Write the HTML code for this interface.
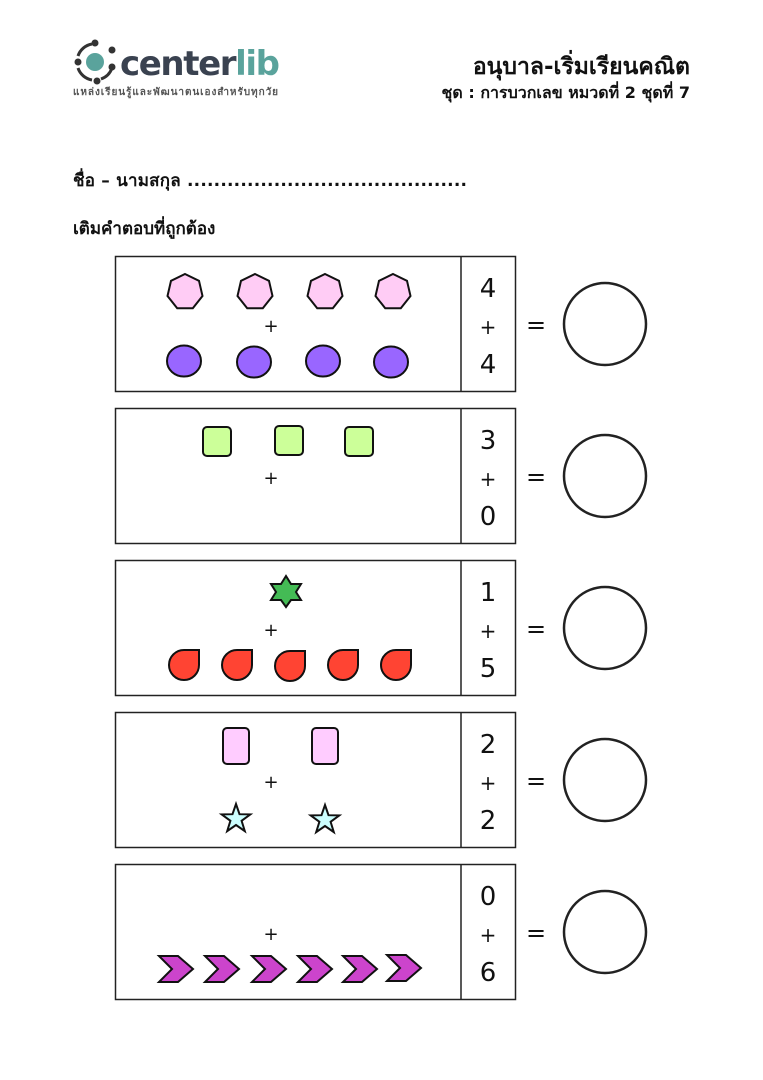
<!DOCTYPE html>
<html><head><meta charset="utf-8"><style>
body{margin:0;background:#fff;width:763px;height:1080px;overflow:hidden}
svg{display:block}
text{font-family:"DejaVu Sans","Liberation Sans","Noto Sans CJK SC",sans-serif}
</style></head><body>
<svg width="763" height="1080" xmlns="http://www.w3.org/2000/svg">
<defs>
<polygon id="hep" points="0,-18 14,-11.2 17.5,4 7.8,16.2 -7.8,16.2 -17.5,4 -14,-11.2" fill="#ffccf5" stroke="#111" stroke-width="2"/>
<ellipse id="ell" rx="17" ry="15.5" fill="#9966ff" stroke="#111" stroke-width="2"/>
<rect id="sq" x="-14" y="-14" width="28" height="29" rx="4" fill="#ccff99" stroke="#111" stroke-width="2"/>
<path id="drop" d="M15,-15 L15,0 A15,15 0 1 1 0,-15 Z" fill="#ff4433" stroke="#111" stroke-width="2"/>
<rect id="rr" x="-13" y="-18" width="26" height="36" rx="4" fill="#ffccff" stroke="#111" stroke-width="2"/>
<polygon id="st5" points="0,-15 3.5,-4.8 14.3,-4.6 5.6,1.8 8.8,12.1 0,6 -8.8,12.1 -5.6,1.8 -14.3,-4.6 -3.5,-4.8" fill="#ccffff" stroke="#111" stroke-width="2"/>
<polygon id="chev" points="-17,-13 2,-13 17,0 2,13 -17,13 -4,0" fill="#cc44cc" stroke="#111" stroke-width="2"/>
</defs>
<g transform="translate(95,62)">
<circle r="9" fill="#5aa39c"/>
<path d="M-17,-6 A18,18 0 0 1 -3,-18" stroke="#333" stroke-width="3" fill="none"/>
<path d="M-17,6 A18,18 0 0 0 -3,18" stroke="#333" stroke-width="3" fill="none"/>
<path d="M6,17 A18,18 0 0 0 17,6" stroke="#333" stroke-width="3" fill="none"/>
<circle cx="-17" cy="0" r="3.5" fill="#333"/><circle cx="0" cy="-19" r="3.5" fill="#333"/><circle cx="17" cy="-12" r="3.5" fill="#333"/><circle cx="17" cy="5" r="3.5" fill="#333"/><circle cx="2" cy="19" r="3.5" fill="#333"/>
</g>
<text x="120" y="75" font-size="34" font-weight="bold" fill="#3a4250" font-family="Liberation Sans" textLength="160">center<tspan fill="#5aa39c">lib</tspan></text>
<text x="73" y="95" font-size="10" font-weight="bold" fill="#555" textLength="205">แหล่งเรียนรู้และพัฒนาตนเองสำหรับทุกวัย</text>
<text x="690" y="74" font-size="23" font-weight="bold" text-anchor="end" fill="#111">อนุบาล-เริ่มเรียนคณิต</text>
<text x="690" y="98" font-size="16" font-weight="bold" text-anchor="end" fill="#111">ชุด : การบวกเลข หมวดที่ 2 ชุดที่ 7</text>
<text x="73" y="186" font-size="17" font-weight="bold" fill="#111" textLength="394">ชื่อ – นามสกุล ..........................................</text>
<text x="73" y="234" font-size="17" font-weight="bold" fill="#111">เติมคำตอบที่ถูกต้อง</text>
<g fill="none" stroke="#222" stroke-width="1.5">
<rect x="115.5" y="256.5" width="400" height="135"/><line x1="461" y1="256" x2="461" y2="391"/>
<rect x="115.5" y="408.5" width="400" height="135"/><line x1="461" y1="408" x2="461" y2="543"/>
<rect x="115.5" y="560.5" width="400" height="135"/><line x1="461" y1="560" x2="461" y2="695"/>
<rect x="115.5" y="712.5" width="400" height="135"/><line x1="461" y1="712" x2="461" y2="847"/>
<rect x="115.5" y="864.5" width="400" height="135"/><line x1="461" y1="864" x2="461" y2="999"/>
<g stroke-width="2.5">
<circle cx="605" cy="324" r="41"/>
<circle cx="605" cy="476" r="41"/>
<circle cx="605" cy="628" r="41"/>
<circle cx="605" cy="780" r="41"/>
<circle cx="605" cy="932" r="41"/>
</g>
</g>
<g font-size="26" text-anchor="middle" fill="#111">
<text x="488" y="297">4</text><text x="488" y="334" font-size="20">+</text><text x="488" y="373">4</text>
<text x="488" y="449">3</text><text x="488" y="486" font-size="20">+</text><text x="488" y="525">0</text>
<text x="488" y="601">1</text><text x="488" y="638" font-size="20">+</text><text x="488" y="677">5</text>
<text x="488" y="753">2</text><text x="488" y="790" font-size="20">+</text><text x="488" y="829">2</text>
<text x="488" y="905">0</text><text x="488" y="942" font-size="20">+</text><text x="488" y="981">6</text>
<g font-size="24"><text x="536" y="333">=</text><text x="536" y="485">=</text><text x="536" y="637">=</text><text x="536" y="789">=</text><text x="536" y="941">=</text></g>
<g font-size="18"><text x="271" y="332">+</text><text x="271" y="484">+</text><text x="271" y="636">+</text><text x="271" y="788">+</text><text x="271" y="940">+</text></g>
</g>
<use href="#hep" x="185" y="292"/><use href="#hep" x="255" y="292"/><use href="#hep" x="325" y="292"/><use href="#hep" x="393" y="292"/>
<use href="#ell" x="184" y="361"/><use href="#ell" x="254" y="362"/><use href="#ell" x="323" y="361"/><use href="#ell" x="391" y="362"/>
<use href="#sq" x="217" y="441"/><use href="#sq" x="289" y="440"/><use href="#sq" x="359" y="441"/>
<polygon points="286,576 291,584 301,584 296,592 301,600 291,600 286,607 281,600 271,600 276,592 271,584 281,584" fill="#44bb55" stroke="#111" stroke-width="2"/>
<use href="#drop" x="184" y="665"/><use href="#drop" x="237" y="665"/><use href="#drop" x="290" y="666"/><use href="#drop" x="343" y="665"/><use href="#drop" x="396" y="665"/>
<use href="#rr" x="236" y="746"/><use href="#rr" x="325" y="746"/>
<use href="#st5" x="236" y="819"/><use href="#st5" x="325" y="820"/>
<use href="#chev" x="176" y="969"/><use href="#chev" x="222" y="969"/><use href="#chev" x="269" y="969"/><use href="#chev" x="315" y="969"/><use href="#chev" x="360" y="969"/><use href="#chev" x="404" y="968"/>
</svg>
</body></html>
